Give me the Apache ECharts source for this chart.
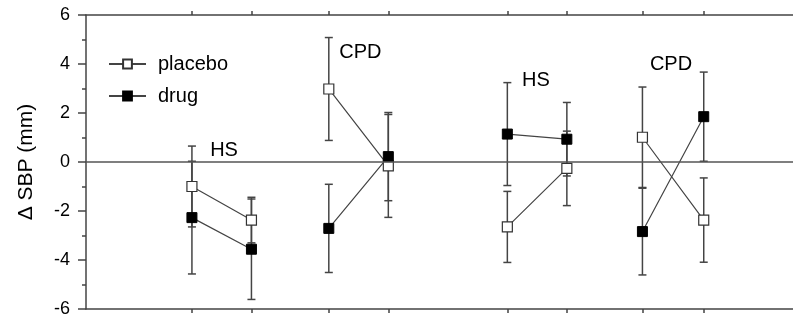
<!DOCTYPE html>
<html>
<head>
<meta charset="utf-8">
<script src="https://cdn.jsdelivr.net/npm/echarts@6/dist/echarts.min.js"></script>
<style>
html,body{margin:0;padding:0;background:#fff;}
#main{width:793px;height:328px;}
</style>
</head>
<body>
<div id="main"></div>
<script>
// x positions of the 8 measurements (4 pairs)
var xPos = [1, 2, 3.3, 4.3, 6.3, 7.3, 8.57, 9.6];
var placebo = [-1.0, -2.37, 2.98, -0.16, -2.65, -0.26, 1.01, -2.37];
var placeboErr = [1.65, 0.93, 2.1, 2.1, 1.45, 1.52, 2.05, 1.72];
var drug = [-2.27, -3.56, -2.71, 0.22, 1.14, 0.93, -2.84, 1.85];
var drugErr = [2.3, 2.05, 1.8, 1.8, 2.1, 1.5, 1.77, 1.82];
var labelText = ['HS', 'CPD', 'HS', 'CPD'];
var labelX = [1.54, 3.83, 6.78, 9.05];
var labelY = [0.49, 4.45, 3.31, 3.96];

function pairs(vals) {
  var out = [];
  for (var i = 0; i < vals.length; i += 2) {
    out.push([xPos[i], vals[i]]);
    out.push([xPos[i + 1], vals[i + 1]]);
    if (i + 2 < vals.length) out.push([xPos[i + 1], '-']);
  }
  return out;
}
function errData(vals, errs) {
  return vals.map(function (v, i) { return [xPos[i], v - errs[i], v + errs[i]]; });
}
function errRender(params, api) {
  var x = api.value(0);
  var lo = api.coord([x, api.value(1)]);
  var hi = api.coord([x, api.value(2)]);
  var w = 4;
  var st = {stroke: '#444', lineWidth: 1.5};
  return {
    type: 'group',
    children: [
      {type: 'line', shape: {x1: lo[0], y1: lo[1], x2: hi[0], y2: hi[1]}, style: st},
      {type: 'line', shape: {x1: lo[0] - w, y1: lo[1], x2: lo[0] + w, y2: lo[1]}, style: st},
      {type: 'line', shape: {x1: hi[0] - w, y1: hi[1], x2: hi[0] + w, y2: hi[1]}, style: st}
    ]
  };
}

var chart = echarts.init(document.getElementById('main'));
var font = 'Liberation Sans, Arial';
var xCommon = {
  type: 'value', min: -0.78, max: 11.1,
  axisLine: {onZero: false, lineStyle: {color: '#444', width: 1.5}},
  axisTick: {show: true, length: 4, customValues: xPos, lineStyle: {color: '#444', width: 1.5}},
  axisLabel: {show: false},
  splitLine: {show: false}
};
var option = {
  animation: false,
  grid: {left: 86, right: 0, top: 15, bottom: 19},
  legend: {
    data: ['placebo', 'drug'],
    orient: 'vertical', left: 103, top: 49,
    itemWidth: 37, itemHeight: 11, itemGap: 12,
    textStyle: {fontFamily: font, fontSize: 20, color: '#000', padding: [0, 0, 0, 7]}
  },
  xAxis: [
    Object.assign({position: 'bottom'}, xCommon),
    Object.assign({position: 'top'}, xCommon)
  ],
  yAxis: {
    type: 'value', min: -6, max: 6, interval: 2,
    name: 'Δ SBP (mm)', nameLocation: 'middle', nameGap: 49,
    nameTextStyle: {fontFamily: font, fontSize: 21, color: '#000'},
    axisLine: {onZero: false, lineStyle: {color: '#444', width: 1.5}},
    axisTick: {length: 8, lineStyle: {color: '#444', width: 1.5}},
    minorTick: {show: true, splitNumber: 2, length: 4, lineStyle: {color: '#444', width: 1.5}},
    axisLabel: {margin: 16, fontFamily: font, fontSize: 18, color: '#000'},
    splitLine: {show: false}
  },
  series: [
    {
      type: 'custom', name: 'placeboErr', renderItem: errRender,
      data: errData(placebo, placeboErr), z: 1,
      markLine: {
        silent: true, symbol: 'none', label: {show: false},
        lineStyle: {color: '#555', width: 1.5, type: 'solid'},
        data: [{yAxis: 0}]
      }
    },
    {type: 'custom', name: 'drugErr', renderItem: errRender, data: errData(drug, drugErr), z: 1},
    {
      type: 'line', name: 'placebo', data: pairs(placebo), connectNulls: false,
      symbol: 'rect', symbolSize: 10, showAllSymbol: true, z: 3,
      lineStyle: {color: '#444', width: 1.2},
      itemStyle: {color: '#fff', borderColor: '#333', borderWidth: 1.2}
    },
    {
      type: 'line', name: 'drug', data: pairs(drug), connectNulls: false,
      symbol: 'rect', symbolSize: 10, showAllSymbol: true, z: 3,
      lineStyle: {color: '#444', width: 1.2},
      itemStyle: {color: '#000', borderColor: '#000', borderWidth: 1}
    },
    {
      type: 'scatter', name: 'labels', symbolSize: 0, z: 4, silent: true,
      itemStyle: {opacity: 1, color: '#000'},
      data: labelText.map(function (t, i) { return {value: [labelX[i], labelY[i]], name: t}; }),
      label: {
        show: true, position: 'inside', formatter: '{b}', opacity: 1,
        textBorderWidth: 0, fontFamily: font, fontSize: 20, color: '#000'
      }
    }
  ]
};
chart.setOption(option);
</script>
</body>
</html>
